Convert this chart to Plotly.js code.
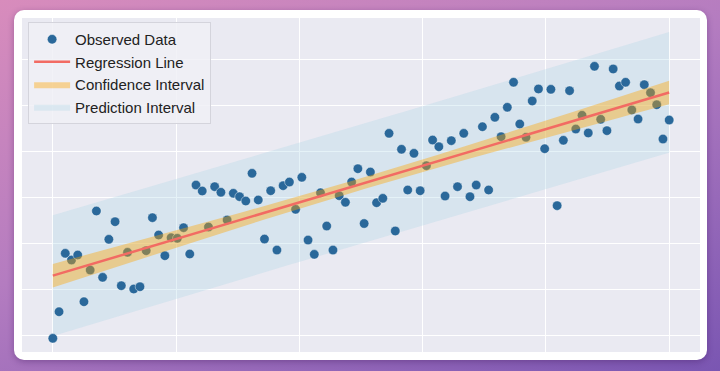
<!DOCTYPE html>
<html><head><meta charset="utf-8">
<script src="https://cdn.plot.ly/plotly-3.0.1.min.js"></script>
<style>
html,body{margin:0;padding:0;width:720px;height:371px;overflow:hidden;}
body{background:linear-gradient(160deg,#d88cbc 0%,#b47cc0 45%,#7a56b2 100%);position:relative;}
#card{position:absolute;left:14px;top:10px;width:693px;height:350px;background:#fff;border-radius:10px;box-shadow:0 2px 6px rgba(60,20,90,0.35);}
#chart{position:absolute;left:0;top:0;width:720px;height:371px;}
</style></head>
<body>
<div id="card"></div>
<div id="chart"></div>
<script>
// x values (0..100, 100 observations)
const xValues = [0,1.01,2.02,3.03,4.04,5.05,6.06,7.07,8.08,9.09,10.1,11.11,12.12,13.13,14.14,15.15,16.16,17.17,18.18,19.19,20.2,21.21,22.22,23.23,24.24,25.25,26.26,27.27,28.28,29.29,30.3,31.31,32.32,33.33,34.34,35.35,36.36,37.37,38.38,39.39,40.4,41.41,42.42,43.43,44.44,45.45,46.46,47.47,48.48,49.49,50.51,51.52,52.53,53.54,54.55,55.56,56.57,57.58,58.59,59.6,60.61,61.62,62.63,63.64,64.65,65.66,66.67,67.68,68.69,69.7,70.71,71.72,72.73,73.74,74.75,75.76,76.77,77.78,78.79,79.8,80.81,81.82,82.83,83.84,84.85,85.86,86.87,87.88,88.89,89.9,90.91,91.92,92.93,93.94,94.95,95.96,96.97,97.98,98.99,100];
const yObserved = [-3.6,25.4,89.1,81.8,87.3,36.3,70.9,135.3,62.9,104.4,123.6,53.8,90.2,50.2,52.7,92.0,128.0,109.1,86.5,106.1,105.5,117.1,88.4,163.6,157.1,117.8,161.8,155.7,125.5,154.6,150.9,146.2,176.4,147.3,104.7,157.4,92.7,162.9,166.9,137.1,172.0,103.6,88.0,155.2,118.9,92.7,152.0,144.8,166.9,181.4,121.6,177.8,144.3,149.1,220.0,113.5,202.6,158.2,198.2,157.4,184.7,212.7,205.4,151.6,212.0,161.8,220.0,150.9,163.6,227.2,158.2,237.5,216.3,248.4,275.7,230.2,215.7,255.3,268.4,203.2,268.0,141.1,212.4,266.5,224.7,239.7,220.4,293.1,235.3,222.9,290.2,271.6,275.7,245.5,235.6,273.1,264.3,251.2,213.8,234.5];
const legendLabels = ["Observed Data","Regression Line","Confidence Interval","Prediction Interval"];

// ordinary least squares fit and 95% intervals
const n = xValues.length;
const mx = xValues.reduce((a,b)=>a+b,0)/n;
const my = yObserved.reduce((a,b)=>a+b,0)/n;
let sxx=0, sxy=0;
for(let i=0;i<n;i++){sxx+=(xValues[i]-mx)**2; sxy+=(xValues[i]-mx)*(yObserved[i]-my);}
const slope = sxy/sxx, intercept = my - slope*mx;
let sse=0;
for(let i=0;i<n;i++){sse+=(yObserved[i]-(intercept+slope*xValues[i]))**2;}
const s = Math.sqrt(sse/(n-2));
const t = 1.9845;
const fit = xValues.map(x=>intercept+slope*x);
const ciHalf = xValues.map(x=>t*s*Math.sqrt(1/n+(x-mx)**2/sxx));
const piHalf = xValues.map(x=>t*s*Math.sqrt(1+1/n+(x-mx)**2/sxx));

const traces = [
  {x:xValues, y:fit.map((f,i)=>f-piHalf[i]), mode:'lines', line:{width:0,color:'rgba(0,0,0,0)'}, showlegend:false, hoverinfo:'skip'},
  {x:xValues, y:fit.map((f,i)=>f+piHalf[i]), mode:'lines', fill:'tonexty', fillcolor:'rgba(173,216,230,0.32)', line:{width:0,color:'rgba(0,0,0,0)'}, name:legendLabels[3], legendrank:4},
  {x:xValues, y:yObserved, mode:'markers', name:legendLabels[0], legendrank:1,
   marker:{size:9.5,color:'#2a689a',line:{width:0.8,color:'rgba(255,255,255,0.55)'}}},
  {x:xValues, y:fit.map((f,i)=>f-ciHalf[i]), mode:'lines', line:{width:0,color:'rgba(0,0,0,0)'}, showlegend:false, hoverinfo:'skip'},
  {x:xValues, y:fit.map((f,i)=>f+ciHalf[i]), mode:'lines', fill:'tonexty', fillcolor:'rgba(255,165,0,0.4)', line:{width:0,color:'rgba(0,0,0,0)'}, name:legendLabels[2], legendrank:3},
  {x:xValues, y:fit, mode:'lines', name:legendLabels[1], legendrank:2, line:{color:'#f26b63',width:2.5}}
];

const layout = {
  width:720, height:371,
  paper_bgcolor:'rgba(0,0,0,0)', plot_bgcolor:'#eaeaf2',
  margin:{l:22,r:20,t:18,b:19},
  font:{family:'Liberation Sans, Arial, sans-serif', size:15, color:'#222'},
  xaxis:{range:[-5,105], dtick:20, tick0:0, showticklabels:false, ticks:'', zeroline:false, showline:false, gridcolor:'#ffffff', gridwidth:1},
  yaxis:{range:[-18.5,345.8], dtick:50, tick0:0, showticklabels:false, ticks:'', zeroline:false, showline:false, gridcolor:'#ffffff', gridwidth:1},
  legend:{x:0.009, y:0.988, xanchor:'left', yanchor:'top', bgcolor:'rgba(240,240,246,0.85)', bordercolor:'#d4d4dc', borderwidth:1, font:{family:'Liberation Sans, Arial, sans-serif', size:15, color:'#222'}, traceorder:'normal', itemwidth:36},
  showlegend:true
};
Plotly.newPlot('chart', traces, layout, {staticPlot:true, displayModeBar:false});
</script>
</body></html>
